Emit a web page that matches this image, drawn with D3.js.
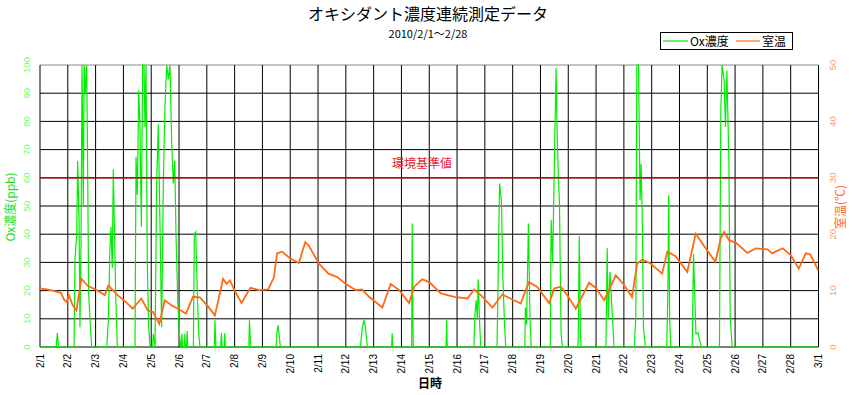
<!DOCTYPE html>
<html>
<head>
<meta charset="utf-8">
<script src="https://cdn.jsdelivr.net/npm/d3@7"></script>
<style>
  body { margin: 0; background: #fff; }
  svg { display: block; font-family: "Liberation Sans", Arial, "Noto Sans CJK JP", sans-serif; }
</style>
</head>
<body>
<svg width="853" height="395"></svg>
<script>
// Ox濃度 (ppb): hours since 2/1 0:00, value
const oxHours = [0, 14, 15, 16,
  29.4, 30.2, 31.7, 32.5, 33.7, 34.5, 35.4, 36.3, 37.4, 38.2, 39.1, 40.3, 41.2, 42, 43.2, 44.6,
  57.6, 59, 60.4, 61.3, 62.4, 63.3, 64.2, 65.3, 66.8,
  82, 82.9, 84, 85.2, 86.3, 87.5, 88.6, 89.8, 90.6, 91.5, 92.6, 93.8, 95, 97.3, 97.8, 99.3,
  100.7, 102.1, 103.6, 105, 106.5, 107.9, 109.4, 110.8, 112.2, 113.7, 115.1, 116.3, 117.4, 118.9, 120.3, 121.5,
  122, 122.5, 123, 124.5, 125, 125.5, 126.5, 127, 127.5,
  132.4, 133.2, 134.4, 135.8, 137, 138.1,
  150.5, 151, 151.8, 156, 156.6, 157.2, 159, 159.5, 160,
  180.3, 180.8, 181.3, 181.8,
  203.8, 204.5, 205.5, 206.5, 207.5,
  276.5, 278, 279.5, 281, 282.5,
  303.5, 304, 304.5,
  320.8, 321.3, 321.8, 322.3,
  350.5, 351, 351.5,
  374.5, 375.5, 376.5, 377.5, 378.3, 379.5, 380.5,
  394.5, 395.3, 396.7, 398.3, 399.5, 401, 402,
  418.5, 419, 420, 421.6, 423, 424,
  440.5, 441.2, 442.5, 444, 445.5, 446.4, 447.5, 448.4, 449.8, 451,
  464.5, 465.5, 466.5, 467,
  488.5, 489.6, 490.5, 492, 493.5, 494.5, 495.5,
  513, 514.3, 515.2, 516.6, 518, 518.9, 520, 520.9, 522.5,
  541, 542, 542.7, 543.5, 544.5,
  563, 564.1, 566.2, 567.9, 570.8,
  586.5, 587.7, 588.8, 590.5, 591.7, 592.9, 594.6, 595.8, 597.5,
  672];
const oxValues = [0, 0, 5, 0,
  0, 30.8, 40, 66, 45, 7, 36.7, 100, 50, 100, 90, 100, 60, 19, 9.5, 0,
  0, 9.5, 35.5, 42.6, 28, 63, 42.6, 19, 0,
  0, 67.5, 54, 91, 78, 42.6, 100, 100, 78, 100, 30.8, 7, 0, 0, 4.7, 0,
  58, 79, 42.6, 7, 59, 86, 100, 95, 100, 72, 58, 66, 40, 16.6, 4.7, 0,
  0, 4.7, 0, 0, 4.7, 0, 0, 5.7, 0,
  0, 40, 40.8, 19, 4.7, 0,
  0, 9.5, 0, 0, 5, 0, 0, 5, 0,
  0, 9.5, 5, 0,
  0, 5, 7.7, 4, 0,
  0, 6, 9.5, 7, 0,
  0, 5, 0,
  0, 43.8, 10, 0,
  0, 9.5, 0,
  0, 12, 16.6, 10, 24, 8, 0,
  0, 20, 58, 52, 25, 8, 0,
  0, 14, 8, 43.8, 10, 0,
  0, 45, 30, 65, 98.8, 75.7, 60, 51, 4.7, 0,
  0, 39.3, 5, 0,
  0, 35, 10, 26.6, 15, 8, 0,
  0, 10.6, 100, 100, 52, 65, 42.6, 7, 0,
  0, 20, 53.8, 10, 0,
  0, 33, 4.7, 5, 0,
  0, 84, 100, 94.7, 78, 98, 67, 10.6, 0,
  0];

// 室温 (℃)
const tempHours = [0, 6, 12.7, 18, 21, 23, 25, 28, 31.4, 35.7, 41, 48.6, 56, 59, 67, 74, 80, 87.5, 93, 97.6,
  103, 107.6, 113.4, 120, 126, 132, 138, 145, 151, 158, 161, 164, 168, 174, 181.6, 189, 197, 202, 204.6, 209,
  216, 223.4, 229, 232, 240.7, 249, 256.6, 263.8, 272.4, 278, 284, 295.5, 302.7, 310, 318.6, 323, 330, 336, 346, 357.6,
  369, 374.8, 380.5, 390.6, 399, 409, 415, 422, 429, 439.5, 444, 449.5, 455, 462.5, 474, 480, 487, 497, 503, 511,
  515.5, 520, 527, 537, 541.5, 548.6, 558.7, 566, 574.6, 583, 587.6, 590.5, 595, 600.5, 610.6, 618, 628, 632, 641, 648,
  655, 661, 665, 672];
const tempValues = [10.4, 10.2, 9.9, 9.6, 8.3, 8.0, 9.2, 7.5, 6.5, 12.1, 10.9, 10.1, 9.2, 10.9, 9.2, 8.0, 6.8, 8.6, 6.5, 6.2,
  4.1, 8.3, 7.4, 6.7, 5.9, 8.9, 8.8, 7.2, 5.6, 12.1, 11.2, 11.8, 10.0, 7.8, 10.5, 10.1, 10.2, 12.4, 16.6, 16.9,
  15.7, 14.9, 18.6, 18.0, 14.8, 13.0, 12.4, 11.2, 10.1, 10.2, 8.9, 7.0, 11.2, 10.1, 7.8, 10.7, 12.0, 11.5, 9.5, 8.9,
  8.6, 10.2, 9.2, 7.0, 9.3, 8.3, 7.7, 11.5, 10.7, 7.8, 10.4, 10.7, 9.2, 6.8, 11.4, 10.4, 8.3, 12.7, 11.3, 8.9,
  14.8, 15.5, 14.8, 13.0, 16.9, 16.1, 13.3, 20.1, 17.5, 15.1, 19.2, 20.4, 18.9, 18.5, 16.7, 17.5, 17.3, 16.6, 17.5, 16.3,
  13.9, 16.6, 16.4, 13.5];

const dayLabels = ["2/1", "2/2", "2/3", "2/4", "2/5", "2/6", "2/7", "2/8", "2/9", "2/10", "2/11", "2/12", "2/13", "2/14",
  "2/15", "2/16", "2/17", "2/18", "2/19", "2/20", "2/21", "2/22", "2/23", "2/24", "2/25", "2/26", "2/27", "2/28", "3/1"];
const oxTicks = [0, 10, 20, 30, 40, 50, 60, 70, 80, 90, 100];
const tempTicks = [0, 10, 20, 30, 40, 50];
const standardValue = 60;

const svg = d3.select('svg');
const plotLeft = 40, plotRight = 818.5, plotTop = 65, plotBottom = 347;

const x = d3.scaleLinear().domain([0, 672]).range([plotLeft, plotRight]);
const yOx = d3.scaleLinear().domain([0, 100]).range([plotBottom, plotTop]);
const yT = d3.scaleLinear().domain([0, 50]).range([plotBottom, plotTop]);

// タイトル
svg.append('text').attr('x', 428).attr('y', 20).attr('text-anchor', 'middle')
  .style('font-size', '16px').style('font-family', '"Noto Sans CJK JP", sans-serif')
  .text('オキシダント濃度連続測定データ');
svg.append('text').attr('x', 428).attr('y', 38).attr('text-anchor', 'middle')
  .style('font-size', '11px').style('font-family', '"Noto Sans CJK JP", sans-serif')
  .text('2010/2/1～2/28');

// グリッド
const grid = svg.append('g');
grid.selectAll('line.h').data(oxTicks).join('line')
  .attr('x1', plotLeft).attr('x2', plotRight)
  .attr('y1', d => yOx(d)).attr('y2', d => yOx(d))
  .attr('stroke', d => d === 100 ? '#888' : '#000').attr('stroke-width', 1);
grid.selectAll('line.v').data(dayLabels).join('line')
  .attr('x1', (d, i) => x(i * 24)).attr('x2', (d, i) => x(i * 24))
  .attr('y1', plotTop).attr('y2', plotBottom)
  .attr('stroke', '#000').attr('stroke-width', 1);

svg.append('clipPath').attr('id', 'clip').append('rect')
  .attr('x', plotLeft).attr('y', plotTop - 1).attr('width', plotRight - plotLeft).attr('height', plotBottom - plotTop + 2);

const plot = svg.append('g').attr('clip-path', 'url(#clip)');

const oxLine = d3.line().x((d, i) => x(oxHours[i])).y(d => yOx(d));
plot.append('path').datum(oxValues).attr('d', oxLine)
  .attr('fill', 'none').attr('stroke', '#00ee00').attr('stroke-width', 1.2);

const tLine = d3.line().x((d, i) => x(tempHours[i])).y(d => yT(d));
plot.append('path').datum(tempValues).attr('d', tLine)
  .attr('fill', 'none').attr('stroke', '#ff6a14').attr('stroke-width', 1.8);

// 環境基準値
svg.append('line').attr('x1', plotLeft).attr('x2', plotRight)
  .attr('y1', yOx(standardValue)).attr('y2', yOx(standardValue))
  .attr('stroke', '#d00000').attr('stroke-width', 1.5);
svg.append('text').attr('x', 422).attr('y', 168).attr('text-anchor', 'middle')
  .style('font-size', '12px').style('font-family', '"Noto Sans CJK JP", sans-serif')
  .attr('fill', '#ee2233').text('環境基準値');

// 軸ラベル
svg.selectAll('text.yl').data(oxTicks).join('text')
  .attr('transform', d => `translate(30,${yOx(d)}) rotate(-90)`)
  .attr('text-anchor', 'middle')
  .style('font-size', '9.5px').attr('fill', '#66ff66').text(d => d);
svg.selectAll('text.yr').data(tempTicks).join('text')
  .attr('transform', d => `translate(836,${yT(d)}) rotate(-90)`)
  .attr('text-anchor', 'middle')
  .style('font-size', '9.5px').attr('fill', '#ff9966').text(d => d);
svg.selectAll('text.xl').data(dayLabels).join('text')
  .attr('transform', (d, i) => `translate(${x(i * 24) + 3.5},354) rotate(-90)`)
  .attr('text-anchor', 'end')
  .style('font-size', '10px').attr('fill', '#000').text(d => d);

svg.append('text').attr('transform', 'translate(15,207) rotate(-90)').attr('text-anchor', 'middle')
  .style('font-size', '12px').style('font-family', '"Noto Sans CJK JP", sans-serif')
  .attr('fill', '#22dd22').text('Ox濃度(ppb)');
svg.append('text').attr('transform', 'translate(845,207) rotate(-90)').attr('text-anchor', 'middle')
  .style('font-size', '12px').style('font-family', '"Noto Sans CJK JP", sans-serif')
  .attr('fill', '#ff6a33').text('室温(℃)');
svg.append('text').attr('x', 430).attr('y', 388).attr('text-anchor', 'middle')
  .style('font-size', '12px').style('font-weight', 'bold').style('font-family', '"Noto Sans CJK JP", sans-serif')
  .text('日時');

// 凡例
const legend = svg.append('g');
legend.append('rect').attr('x', 660.5).attr('y', 32.5).attr('width', 132).attr('height', 17)
  .attr('fill', '#fff').attr('stroke', '#000');
legend.append('line').attr('x1', 663).attr('x2', 688).attr('y1', 41).attr('y2', 41)
  .attr('stroke', '#00ee00').attr('stroke-width', 1.2);
legend.append('text').attr('x', 690).attr('y', 45.5)
  .style('font-size', '12px').style('font-family', '"Noto Sans CJK JP", sans-serif').text('Ox濃度');
legend.append('line').attr('x1', 736).attr('x2', 760).attr('y1', 41).attr('y2', 41)
  .attr('stroke', '#ff6a14').attr('stroke-width', 1.2);
legend.append('text').attr('x', 762).attr('y', 45.5)
  .style('font-size', '12px').style('font-family', '"Noto Sans CJK JP", sans-serif').text('室温');
</script>
</body>
</html>
